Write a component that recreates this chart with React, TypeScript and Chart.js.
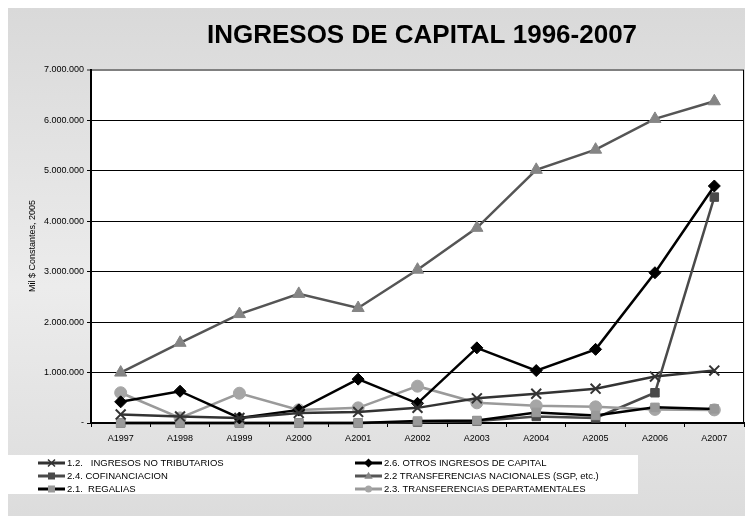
import React, { useEffect, useRef } from "react";
import { Chart, registerables } from "chart.js";

Chart.register(...registerables);

const categories = ["A1997", "A1998", "A1999", "A2000", "A2001", "A2002", "A2003", "A2004", "A2005", "A2006", "A2007"];

const ingresosNoTributarios = [170000, 130000, 100000, 200000, 220000, 300000, 490000, 580000, 680000, 920000, 1040000];
const otrosIngresosCapital = [420000, 630000, 100000, 260000, 870000, 390000, 1490000, 1040000, 1460000, 2980000, 4700000];
const cofinanciacion = [0, 0, 0, 0, 0, 20000, 40000, 130000, 100000, 600000, 4480000];
const transferenciasNacionales = [1000000, 1590000, 2160000, 2560000, 2280000, 3040000, 3870000, 5020000, 5420000, 6030000, 6380000];
const regalias = [0, 0, 0, 0, 0, 40000, 50000, 210000, 150000, 310000, 280000];
const transferenciasDepartamentales = [600000, 100000, 590000, 260000, 300000, 730000, 400000, 340000, 320000, 270000, 260000];

const seriesLabels = [
  "1.2.   INGRESOS NO TRIBUTARIOS",
  "2.6. OTROS INGRESOS DE CAPITAL",
  "2.4. COFINANCIACION",
  "2.2 TRANSFERENCIAS NACIONALES (SGP, etc.)",
  "2.1.  REGALIAS",
  "2.3. TRANSFERENCIAS DEPARTAMENTALES",
];

const yTicksMax = 7000000;
const yStep = 1000000;
const titleText = "INGRESOS DE CAPITAL 1996-2007";
const yTitleText = "Mil $ Constantes, 2005";

const FONT = '"Liberation Sans", Arial, sans-serif';

function fmt(v: number): string {
  if (v === 0) return "-";
  return String(Math.round(v)).replace(/\B(?=(\d{3})+(?!\d))/g, ".");
}

function drawMarker(ctx: CanvasRenderingContext2D, style: string, x: number, y: number, r: number, fill: string, stroke: string) {
  ctx.save();
  ctx.fillStyle = fill;
  ctx.strokeStyle = stroke;
  ctx.lineWidth = 1.5;
  ctx.beginPath();
  if (style === "rect") {
    ctx.rect(x - r, y - r, 2 * r, 2 * r);
    ctx.fill();
  } else if (style === "rectRot") {
    ctx.moveTo(x, y - r * 1.3);
    ctx.lineTo(x + r * 1.3, y);
    ctx.lineTo(x, y + r * 1.3);
    ctx.lineTo(x - r * 1.3, y);
    ctx.closePath();
    ctx.fill();
  } else if (style === "triangle") {
    ctx.moveTo(x, y - r * 1.2);
    ctx.lineTo(x + r * 1.2, y + r * 0.8);
    ctx.lineTo(x - r * 1.2, y + r * 0.8);
    ctx.closePath();
    ctx.fill();
  } else if (style === "circle") {
    ctx.arc(x, y, r, 0, Math.PI * 2);
    ctx.fill();
  } else if (style === "crossRot") {
    ctx.moveTo(x - r, y - r);
    ctx.lineTo(x + r, y + r);
    ctx.moveTo(x + r, y - r);
    ctx.lineTo(x - r, y + r);
    ctx.stroke();
  }
  ctx.restore();
}

const decorPlugin = {
  id: "decor",
  beforeDraw(chart: any) {
    const { ctx, width, height, chartArea } = chart;
    ctx.save();
    const g = ctx.createLinearGradient(0, 0, 0, height);
    g.addColorStop(0, "#d9d9d9");
    g.addColorStop(0.55, "#ececec");
    g.addColorStop(1, "#dcdcdc");
    ctx.fillStyle = g;
    ctx.fillRect(0, 0, width, height);
    ctx.fillStyle = "#ffffff";
    ctx.fillRect(chartArea.left, chartArea.top, chartArea.right - chartArea.left, chartArea.bottom - chartArea.top);
    // legend box
    ctx.fillRect(0, 447, 630, 39);
    ctx.restore();
  },
  afterDraw(chart: any) {
    const { ctx, chartArea } = chart;
    ctx.save();
    // right border
    ctx.strokeStyle = "#000";
    ctx.lineWidth = 1;
    ctx.beginPath();
    ctx.moveTo(chartArea.right - 0.5, chartArea.top);
    ctx.lineTo(chartArea.right - 0.5, chartArea.bottom);
    ctx.stroke();
    // title
    ctx.fillStyle = "#000";
    ctx.font = `bold 26px ${FONT}`;
    ctx.textAlign = "center";
    ctx.textBaseline = "middle";
    ctx.fillText(titleText, 414, 28);
    // y title
    ctx.save();
    ctx.translate(25, 238);
    ctx.rotate(-Math.PI / 2);
    ctx.font = `9px ${FONT}`;
    ctx.fillText(yTitleText, 0, 0);
    ctx.restore();
    // legend
    const ds = chart.data.datasets;
    ctx.font = `9.5px ${FONT}`;
    ctx.textAlign = "left";
    ctx.textBaseline = "middle";
    for (let i = 0; i < ds.length; i++) {
      const d = ds[i];
      const col = i % 2;
      const row = Math.floor(i / 2);
      const x0 = col === 0 ? 30 : 347;
      const y = 455 + row * 13;
      ctx.strokeStyle = d.borderColor;
      ctx.lineWidth = 3;
      ctx.beginPath();
      ctx.moveTo(x0, y);
      ctx.lineTo(x0 + 27, y);
      ctx.stroke();
      drawMarker(ctx, d.pointStyle, x0 + 13.5, y, 3.5, d.pointBackgroundColor, d.pointBorderColor);
      ctx.fillStyle = "#000";
      ctx.fillText(seriesLabels[i], x0 + 29, y + 0.5);
    }
    ctx.restore();
  },
};

export default function App() {
  const ref = useRef<HTMLCanvasElement | null>(null);
  useEffect(() => {
    if (!ref.current) return;
    const mk = (data: number[], i: number, line: string, fill: string, style: string, r: number, order: number) => ({
      label: seriesLabels[i],
      data,
      order,
      clip: false,
      borderColor: line,
      borderWidth: 2.5,
      pointStyle: style,
      pointRadius: r,
      pointBackgroundColor: fill,
      pointBorderColor: style === "crossRot" ? line : fill,
      pointBorderWidth: style === "crossRot" ? 2 : 1,
      tension: 0,
      fill: false,
    });
    const chart = new Chart(ref.current, {
      type: "line",
      data: {
        labels: categories,
        datasets: [
          mk(ingresosNoTributarios, 0, "#333333", "#333333", "crossRot", 7, 1),
          mk(otrosIngresosCapital, 1, "#000000", "#000000", "rectRot", 6, 1),
          mk(cofinanciacion, 2, "#4a4a4a", "#4a4a4a", "rect", 6, 3),
          mk(transferenciasNacionales, 3, "#555555", "#858585", "triangle", 7, 2),
          mk(regalias, 4, "#000000", "#999999", "rect", 6, 2),
          mk(transferenciasDepartamentales, 5, "#9a9a9a", "#a6a6a6", "circle", 6, 2),
        ] as any,
      },
      options: {
        responsive: false,
        animation: false,
        devicePixelRatio: 1,
        layout: { padding: { left: 0, right: 3, top: 62, bottom: 63 } },
        plugins: { legend: { display: false }, title: { display: false }, tooltip: { enabled: false } },
        scales: {
          x: {
            offset: true,
            afterFit: (s: any) => { s.height = 30; },
            grid: { drawOnChartArea: false, drawTicks: true, tickLength: 4, color: "#000", lineWidth: 1, offset: true },
            border: { color: "#000", width: 2 },
            ticks: { color: "#000", font: { family: FONT, size: 9 }, padding: 6, maxRotation: 0 },
          },
          y: {
            min: 0,
            max: yTicksMax,
            afterFit: (s: any) => { s.width = 83; },
            grid: {
              color: (c: any) => (c.tick && c.tick.value === yTicksMax ? "#808080" : "#000"),
              lineWidth: (c: any) => (c.tick && c.tick.value === yTicksMax ? 2 : 1),
              tickLength: 4,
            },
            border: { color: "#000", width: 2 },
            ticks: {
              stepSize: yStep,
              color: "#000",
              font: { family: FONT, size: 9 },
              padding: 3,
              callback: (v: any) => fmt(Number(v)),
            },
          },
        },
      },
      plugins: [decorPlugin],
    } as any);
    return () => chart.destroy();
  }, []);
  return (
    <div style={{ width: 745, height: 508 }}>
      <canvas ref={ref} width={745} height={508} style={{ display: "block" }} />
    </div>
  );
}
